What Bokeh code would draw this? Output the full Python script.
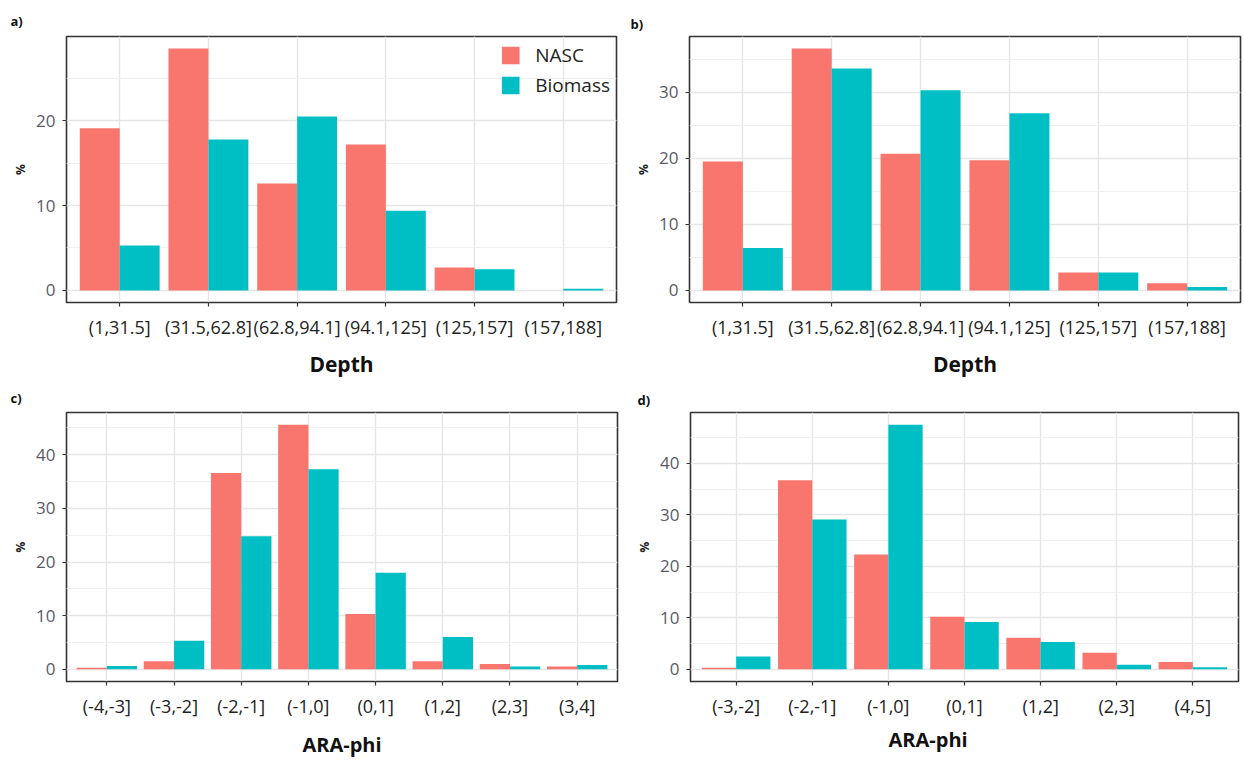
from bokeh.plotting import figure
from bokeh.models import FactorRange, Range1d, SingleIntervalTicker, ColumnDataSource, Title
from bokeh.transform import dodge
from bokeh.layouts import column, row
from bokeh.embed import file_html
from bokeh.resources import INLINE

# Depth classes (m) and percentage shares
depth_bins = ["(1,31.5]", "(31.5,62.8]", "(62.8,94.1]", "(94.1,125]", "(125,157]", "(157,188]"]
nasc_a = [19.1, 28.5, 12.6, 17.2, 2.7, 0.0]
biomass_a = [5.3, 17.8, 20.5, 9.4, 2.5, 0.2]
nasc_b = [19.5, 36.6, 20.7, 19.7, 2.7, 1.1]
biomass_b = [6.4, 33.6, 30.3, 26.8, 2.7, 0.5]

# ARA-phi classes and percentage shares
phi_bins_c = ["(-4,-3]", "(-3,-2]", "(-2,-1]", "(-1,0]", "(0,1]", "(1,2]", "(2,3]", "(3,4]"]
nasc_c = [0.3, 1.5, 36.6, 45.6, 10.3, 1.5, 1.0, 0.5]
biomass_c = [0.6, 5.3, 24.8, 37.3, 18.0, 6.0, 0.5, 0.8]
phi_bins_d = ["(-3,-2]", "(-2,-1]", "(-1,0]", "(0,1]", "(1,2]", "(2,3]", "(4,5]"]
nasc_d = [0.3, 36.7, 22.3, 10.2, 6.1, 3.2, 1.4]
biomass_d = [2.5, 29.1, 47.5, 9.2, 5.3, 0.9, 0.4]

NASC_COLOR = "#F8766D"
BIOMASS_COLOR = "#00BFC4"
FONT = "Open Sans"


def panel(tag, cats, nasc, bio, xlabel, width, height, borders,
          xtick_size, xtitle_size, xtitle_standoff, tag_shift, tag_standoff,
          show_legend=False, xtitle_offset=None):
    left, right, top, bottom = borders
    ymax = max(max(nasc), max(bio))
    p = figure(
        width=width, height=height,
        x_range=FactorRange(*cats, range_padding=0.1, range_padding_units="absolute"),
        y_range=Range1d(-0.05 * ymax, 1.05 * ymax),
        output_backend="svg", toolbar_location=None,
        min_border_left=left, min_border_right=right,
        min_border_top=top, min_border_bottom=bottom,
        background_fill_color="white", border_fill_color="white",
    )
    src = ColumnDataSource(dict(cat=cats, nasc=nasc, bio=bio))
    kw_n = dict(legend_label="NASC") if show_legend else {}
    kw_b = dict(legend_label="Biomass") if show_legend else {}
    p.vbar(x=dodge("cat", -0.225, range=p.x_range), top="nasc", bottom=0, width=0.45,
           source=src, fill_color=NASC_COLOR, line_color=None, **kw_n)
    p.vbar(x=dodge("cat", 0.225, range=p.x_range), top="bio", bottom=0, width=0.45,
           source=src, fill_color=BIOMASS_COLOR, line_color=None, **kw_b)

    # frame
    p.outline_line_color = "#333333"
    p.outline_line_width = 1.6
    p.outline_line_alpha = 1.0

    # grid
    p.yaxis.ticker = SingleIntervalTicker(interval=10, num_minor_ticks=2)
    p.ygrid.grid_line_color = "#e6e6e6"
    p.ygrid.grid_line_width = 1.4
    p.ygrid.minor_grid_line_color = "#efefef"
    p.ygrid.minor_grid_line_width = 1.2
    p.xgrid.grid_line_color = "#e6e6e6"
    p.xgrid.grid_line_width = 1.4

    # axes
    for ax in (p.xaxis, p.yaxis):
        ax.axis_line_color = None
        ax.major_tick_line_color = "#333333"
        ax.major_tick_line_width = 1.2
        ax.major_tick_out = 4
        ax.major_tick_in = 0
        ax.minor_tick_line_color = None
    p.yaxis.major_label_text_font = FONT
    p.yaxis.major_label_text_font_size = "17px"
    p.yaxis.major_label_text_color = "#5a5a66"
    p.yaxis.major_label_standoff = 7
    p.yaxis.axis_label = "%"
    p.yaxis.axis_label_text_font = FONT
    p.yaxis.axis_label_text_font_size = "12px"
    p.yaxis.axis_label_text_font_style = "bold"
    p.yaxis.axis_label_text_color = "#222222"
    p.yaxis.axis_label_standoff = 4

    p.xaxis.major_label_text_font = FONT
    p.xaxis.major_label_text_font_size = xtick_size
    p.xaxis.major_label_text_color = "#222222"
    p.xaxis.major_label_standoff = 8

    if xtitle_offset is None:
        p.xaxis.axis_label = xlabel
        p.xaxis.axis_label_text_font = FONT
        p.xaxis.axis_label_text_font_size = xtitle_size
        p.xaxis.axis_label_text_font_style = "bold"
        p.xaxis.axis_label_text_color = "#111111"
        p.xaxis.axis_label_standoff = xtitle_standoff
    else:
        # x title set off to the left of the frame centre
        p.add_layout(Title(text=xlabel, align="left", offset=xtitle_offset,
                           text_font=FONT, text_font_size=xtitle_size,
                           text_font_style="bold", text_color="#111111",
                           standoff=xtitle_standoff), "below")

    # panel tag
    p.title.text = tag
    p.title.align = "left"
    p.title.offset = -(left - tag_shift)
    p.title.text_font = FONT
    p.title.text_font_size = "13px"
    p.title.text_font_style = "bold"
    p.title.text_color = "#111111"
    p.title.standoff = tag_standoff

    if show_legend:
        lg = p.legend[0]
        lg.location = "top_right"
        lg.border_line_color = None
        lg.background_fill_alpha = 0.0
        lg.margin = 6
        lg.padding = 2
        lg.spacing = 4
        lg.glyph_width = 22
        lg.glyph_height = 22
        lg.label_text_font = FONT
        lg.label_text_font_size = "19px"
        lg.label_text_color = "#222222"
        lg.label_standoff = 14
    return p


pa = panel("a)", depth_bins, nasc_a, biomass_a, "Depth", 620, 380,
           (66, 4, 35, 73), "18px", "21px", 8, 10, 14, show_legend=True)
pb = panel("b)", depth_bins, nasc_b, biomass_b, "Depth", 624, 380,
           (69, 4, 36, 73), "18px", "21px", 8, 10, 8)
pc = panel("c)", phi_bins_c, nasc_c, biomass_c, "ARA-phi", 620, 380,
           (66, 3, 30, 73), "18px", "20px", 10, 10, 12)
pd = panel("d)", phi_bins_d, nasc_d, biomass_d, "ARA-phi", 624, 380,
           (70, 6, 28, 75), "18px", "20px", 7, 17, 8, xtitle_offset=198)

layout = column(row(pa, pb), row(pc, pd))

open("out.html", "w").write(file_html(layout, INLINE))
